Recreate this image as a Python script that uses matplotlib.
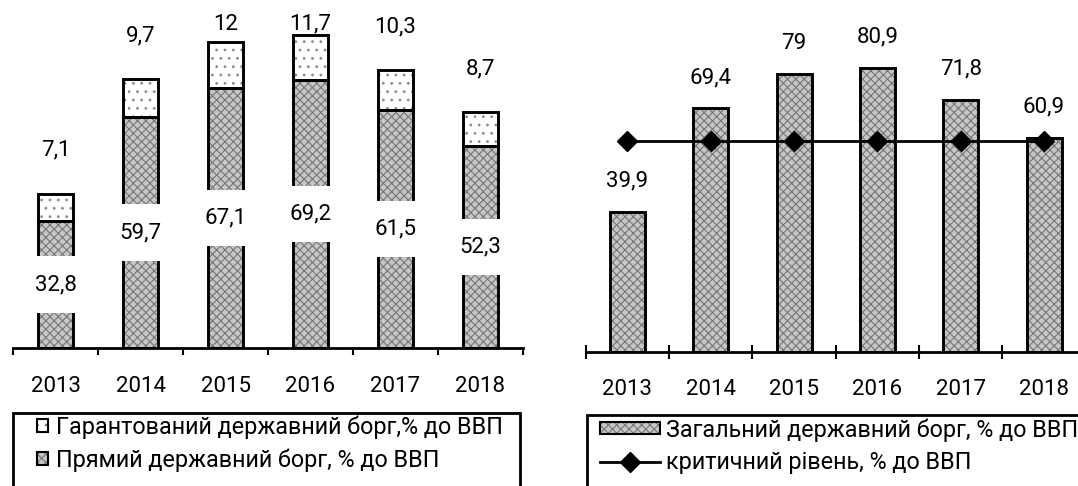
import numpy as np
import matplotlib
matplotlib.use("Agg")
import matplotlib.pyplot as plt
from matplotlib.patches import Patch, Rectangle
from matplotlib.lines import Line2D

# data
years = ["2013", "2014", "2015", "2016", "2017", "2018"]
direct_debt = [32.8, 59.7, 67.1, 69.2, 61.5, 52.3]
guaranteed_debt = [7.1, 9.7, 12, 11.7, 10.3, 8.7]
total_debt = [39.9, 69.4, 79, 80.9, 71.8, 60.9]
critical_level = [60, 60, 60, 60, 60, 60]

left_labels = ["Гарантований державний борг,% до ВВП", "Прямий державний борг, % до ВВП"]
right_labels = ["Загальний державний борг, % до ВВП", "критичний рівень, % до ВВП"]

plt.rcParams["font.family"] = ["Roboto", "DejaVu Sans"]
plt.rcParams["hatch.linewidth"] = 0.8
FS = 16
LEG_FS = 16.8
HATCH_GRAY = "#767676"
FACE_GRAY = "#c6c6c6"
DOT_GRAY = "#8c8c8c"

W, H = 1078, 486
fig = plt.figure(figsize=(W / 100, H / 100), dpi=100)


def fmt(v):
    return f"{v:g}".replace(".", ",")


def style_axis(ax, tick_dir, tick_len):
    for s in ["top", "right", "left"]:
        ax.spines[s].set_visible(False)
    ax.spines["bottom"].set_linewidth(2)
    ax.set_yticks([])
    x = np.arange(len(years))
    ax.set_xlim(-0.5, len(years) - 0.5)
    ax.set_xticks(x)
    ax.set_xticklabels(years, fontsize=FS)
    ax.set_xticks(np.arange(len(years) + 1) - 0.5, minor=True)
    ax.tick_params(axis="x", which="major", length=0, pad=20)
    ax.tick_params(axis="x", which="minor", direction=tick_dir, length=tick_len, width=1.5)


x = np.arange(len(years))
bw = 0.42

# ---- left: stacked direct + guaranteed debt
ax1 = fig.add_axes([13 / W, (H - 348) / H, 510 / W, 348 / H])
ax1.set_ylim(0, 348 / 3.869)
ax1.bar(x, direct_debt, bw, color=FACE_GRAY, edgecolor=HATCH_GRAY, hatch="xxxx", lw=0)
ax1.bar(x, guaranteed_debt, bw, bottom=direct_debt, color="white", edgecolor=DOT_GRAY,
        hatch="..", lw=0)
ax1.bar(x, direct_debt, bw, fill=False, edgecolor="black", lw=2.1)
ax1.bar(x, guaranteed_debt, bw, bottom=direct_debt, fill=False, edgecolor="black", lw=2.1)
style_axis(ax1, "out", 5)

for i in range(len(years)):
    ax1.text(x[i], direct_debt[i] / 2, fmt(direct_debt[i]), ha="center", va="center",
             fontsize=FS, bbox=dict(boxstyle="square,pad=0.8", fc="white", ec="none"))
    top = direct_debt[i] + guaranteed_debt[i]
    ax1.text(x[i], min(top + 11.2, 83.7), fmt(guaranteed_debt[i]), ha="center",
             va="center", fontsize=FS)

h_guar = (Patch(facecolor="white", edgecolor=DOT_GRAY, hatch="..", lw=0),
          Patch(fill=False, edgecolor="black", lw=1.5))
h_dir = (Patch(facecolor=FACE_GRAY, edgecolor=HATCH_GRAY, hatch="xxxx", lw=0),
         Patch(fill=False, edgecolor="black", lw=1.5))
fig.legend([h_guar, h_dir], left_labels, loc="upper left",
           bbox_to_anchor=(37 / W, 1 - 415 / H), frameon=False, fontsize=LEG_FS,
           borderpad=0, borderaxespad=0, handlelength=0.48, handleheight=0.48,
           handletextpad=0.34, labelspacing=0.42)
fig.add_artist(Rectangle((13 / W, -0.1), (520 - 13) / W, 0.1 + 1 - 413 / H,
                         transform=fig.transFigure, fill=False, ec="black", lw=2))

# ---- right: total debt vs critical level
ax2 = fig.add_axes([585.7 / W, (H - 351.7) / H, 500 / W, 351.7 / H])
ax2.set_ylim(0, 351.7 / 3.51)
ax2.bar(x, total_debt, bw, color=FACE_GRAY, edgecolor=HATCH_GRAY, hatch="xxxx", lw=0)
ax2.bar(x, total_debt, bw, fill=False, edgecolor="black", lw=2.1)
ax2.plot(x, critical_level, color="black", lw=2, marker="D", ms=10)
style_axis(ax2, "inout", 10)

for i in range(len(years)):
    ax2.text(x[i], total_debt[i] + 8.7, fmt(total_debt[i]), ha="center", va="center",
             fontsize=FS)

h_tot = (Patch(facecolor=FACE_GRAY, edgecolor=HATCH_GRAY, hatch="xxxx", lw=0),
         Patch(fill=False, edgecolor="black", lw=1.5))
h_crit = Line2D([], [], color="black", lw=2, marker="D", ms=10)
fig.legend([h_tot, h_crit], right_labels, loc="upper left",
           bbox_to_anchor=(600 / W, 1 - 418 / H), frameon=False, fontsize=LEG_FS,
           borderpad=0, borderaxespad=0, handlelength=2.55, handleheight=0.42,
           handletextpad=0.3, labelspacing=0.42)
fig.add_artist(Rectangle((587 / W, -0.1), 0.5, 0.1 + 1 - 415 / H,
                         transform=fig.transFigure, fill=False, ec="black", lw=2))

fig.savefig("out.png", dpi=100)
